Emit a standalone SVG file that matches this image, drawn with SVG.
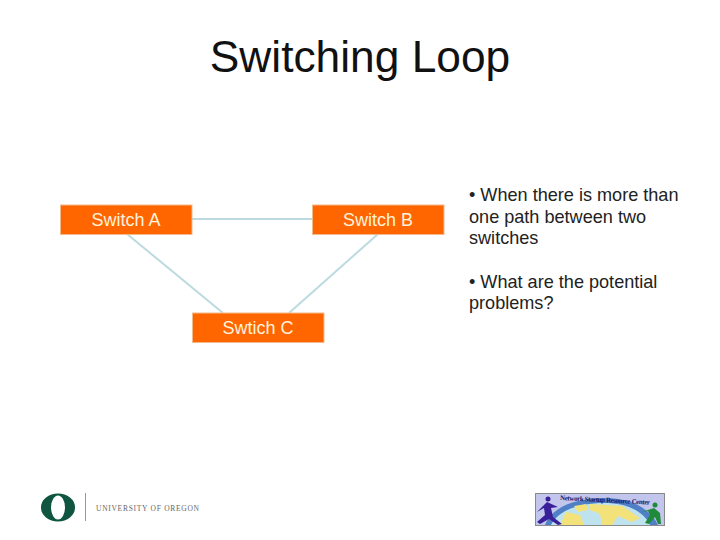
<svg xmlns="http://www.w3.org/2000/svg" width="720" height="540" viewBox="0 0 720 540">
<style>
text{font-family:"Liberation Sans",Arial,sans-serif}
.box{fill:#ff6600;stroke:#f2b98c;stroke-width:1}
.lbl{fill:#fff3dc;font-size:18px;text-anchor:middle}
.link{stroke:#bcdbe0;stroke-width:2;fill:none}
.body{fill:#222;font-size:18.100px}
</style>
<rect width="720" height="540" fill="#fff"/>
<text x="360" y="72" font-size="44.300" fill="#111" text-anchor="middle">Switching Loop</text>
<g id="connectors">
<line class="link" x1="127" y1="234" x2="223" y2="313"/>
<line class="link" x1="378" y1="234" x2="289" y2="313"/>
<line class="link" x1="192" y1="219" x2="312" y2="219"/>
</g>
<g id="switch-a"><rect class="box" x="60.500" y="205" width="131.500" height="29.500"/><text class="lbl" x="126" y="225.500">Switch A</text></g>
<g id="switch-b"><rect class="box" x="312.500" y="205" width="131.500" height="29.500"/><text class="lbl" x="378" y="225.500">Switch B</text></g>
<g id="switch-c"><rect class="box" x="192.500" y="313" width="131.500" height="29.500"/><text class="lbl" x="258" y="333.500">Swtich C</text></g>
<g id="notes">
<text class="body" x="469" y="200.500">• When there is more than</text>
<text class="body" x="469" y="222.500">one path between two</text>
<text class="body" x="469" y="243.500">switches</text>
<text class="body" x="469" y="287.500">• What are the potential</text>
<text class="body" x="469" y="308.500">problems?</text>
</g>
<g id="uo-logo">
<path fill-rule="evenodd" fill="#0f5540" d="M41 507.500a17 14 0 1 0 34 0a17 14 0 1 0-34 0ZM51 507.500a7 12 0 1 1 14 0a7 12 0 1 1-14 0Z"/>
<line x1="85.500" y1="493" x2="85.500" y2="521" stroke="#999" stroke-width="1"/>
<text x="96" y="510.500" font-size="7.500" fill="#666" textLength="103" style="font-family:'Liberation Serif',serif">UNIVERSITY OF OREGON</text>
</g>
<g id="nsrc-logo">
<rect x="535.500" y="493.500" width="129" height="32" fill="#c3c6ec" stroke="#8a8a8a" stroke-width="1"/>
<path d="M545 525C552 506 578 498 604 498C630 498 650 508 658 525Z" fill="#4f7fc4"/>
<path d="M551 525C558 510 580 503 604 503C628 503 644 512 650 525Z" fill="#bfe3ee"/>
<path d="M560 525L566 512L580 515L584 525Z" fill="#f3e27a"/>
<path d="M590 504L622 506L640 518L632 522L618 516L612 525L602 525L600 514L590 510Z" fill="#f3e27a"/>
<path d="M574 506L586 504L588 510L578 512Z" fill="#f3e27a"/>
<g fill="#3a1f9a"><circle cx="548" cy="499" r="2.500"/><path d="M547 502L558 507L551 508L553 517L562 524L558 525L549 519L540 524L537 522L545 515L544 508L537 512Z"/></g>
<g fill="#1f8a3a"><circle cx="655" cy="505" r="2.500"/><path d="M654 508L660 513L661 524L658 524L655 517L649 524L645 523L650 515L648 511L642 512Z"/></g>
<text x="560" y="502" font-size="7" font-weight="bold" fill="#1b1b6b" textLength="90" transform="rotate(3 600 502)" style="font-family:'Liberation Serif',serif">Network Startup Resource Center</text>
</g>
</svg>
